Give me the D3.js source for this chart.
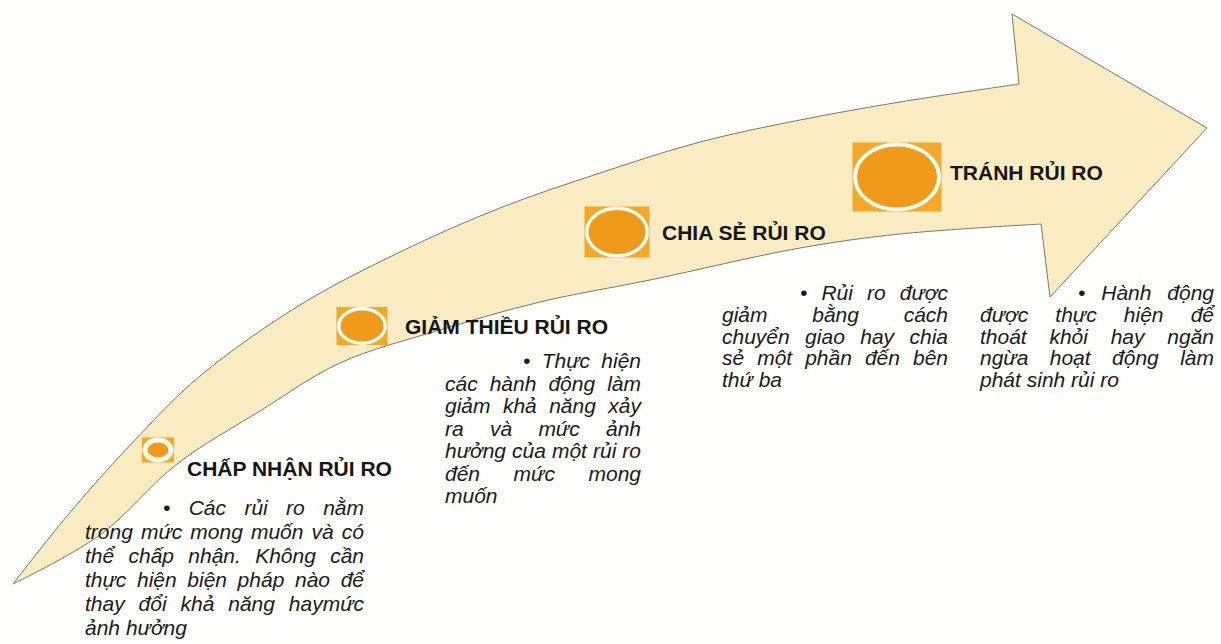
<!DOCTYPE html>
<html>
<head>
<meta charset="utf-8">
<script src="https://cdn.jsdelivr.net/npm/d3@7"></script>
<style>
  body { margin: 0; background: #fefefd; }
  svg { display: block; }
</style>
</head>
<body>
<div id="chart"></div>
<script>
// stage titles and their descriptions (line breaks as in the picture)
const stages = ["CHẤP NHẬN RỦI RO", "GIẢM THIỀU RỦI RO", "CHIA SẺ RỦI RO", "TRÁNH RỦI RO"];

const descAccept = [
  "• Các rủi ro nằm",
  "trong mức mong muốn và có",
  "thể chấp nhận. Không cần",
  "thực hiện biện pháp nào để",
  "thay đổi khả năng haymức",
  "ảnh hưởng"
];
const descReduce = [
  "• Thực hiện",
  "các hành động làm",
  "giảm khả năng xảy",
  "ra và mức ảnh",
  "hưởng của một rủi ro",
  "đến mức mong",
  "muốn"
];
const descShare = [
  "• Rủi ro được",
  "giảm bằng cách",
  "chuyển giao hay chia",
  "sẻ một phần đến bên",
  "thứ ba"
];
const descAvoid = [
  "• Hành động",
  "được thực hiện để",
  "thoát khỏi hay ngăn",
  "ngừa hoạt động làm",
  "phát sinh rủi ro"
];
const descriptions = [descAccept, descReduce, descShare, descAvoid];

// ---- layout (kept apart from the data) ----
const width = 1221, height = 644;

// outline of the curved arrow
const upperEdge = [[13,584],[67,516],[133,442],[200,376],[300,305],[400,252],[500,208],[600,173],[700,142],[800,120],[900,102],[1019,84]];
const lowerEdge = [[13,584],[100,535],[177,464],[260,411],[340,363],[440,330],[540,302],[650,280],[800,248],[900,234],[1041,224]];
const head = [[1012,14],[1207,128],[1050,297]];

// badge boxes along the arrow
const badgeX = [158, 362, 617, 897];
const badgeY = [450, 326, 232, 177];
const badgeW = [32, 51, 65, 89];
const badgeH = [25, 38, 51, 69];
const ringW = [5, 3.5, 3.5, 4];

// headings and text blocks
const titleX = [187, 405, 662, 950];
const titleY = [476, 334, 240, 180];
const blockLeft = [85, 445, 722, 980];
const blockRight = [364, 641, 948, 1214];
const blockIndent = [78, 78, 78, 98];
const blockTop = [515, 368, 300, 300];
const blockLine = [24, 22.5, 21.8, 21.8];

const font = "'Liberation Sans', Arial, sans-serif";

const svg = d3.select("#chart")
  .append("svg")
    .attr("width", width)
    .attr("height", height);

svg.append("rect")
  .attr("width", width)
  .attr("height", height)
  .attr("fill", "#fefefd");

// arrow body
const edge = d3.line().curve(d3.curveCatmullRom.alpha(0.5));
const upperD = edge(upperEdge);
const lowerD = edge(lowerEdge.slice().reverse());
const arrowD = upperD + "L" + head.map(p => p.join(",")).join("L") + "L" + lowerD.slice(1) + "Z";

svg.append("path")
  .attr("d", arrowD)
  .attr("fill", "#f9ebc2")
  .attr("stroke", "#7a776c")
  .attr("stroke-width", 1)
  .attr("stroke-linejoin", "miter");

// badges
const badges = svg.selectAll("g.badge")
  .data(stages)
  .join("g")
    .attr("class", "badge")
    .attr("transform", (d, i) => `translate(${badgeX[i]},${badgeY[i]})`);

badges.append("rect")
  .attr("x", (d, i) => -badgeW[i] / 2)
  .attr("y", (d, i) => -badgeH[i] / 2)
  .attr("width", (d, i) => badgeW[i])
  .attr("height", (d, i) => badgeH[i])
  .attr("fill", "#f5a828");

badges.append("ellipse")
  .attr("rx", (d, i) => badgeW[i] / 2 - ringW[i] / 2 - 0.5)
  .attr("ry", (d, i) => badgeH[i] / 2 - ringW[i] / 2)
  .attr("fill", "#f09a1b")
  .attr("stroke", "#fffbee")
  .attr("stroke-width", (d, i) => ringW[i]);

// headings
svg.selectAll("text.title")
  .data(stages)
  .join("text")
    .attr("class", "title")
    .attr("x", (d, i) => titleX[i])
    .attr("y", (d, i) => titleY[i])
    .attr("font-family", font)
    .attr("font-size", "21px")
    .attr("font-weight", "bold")
    .attr("fill", "#151515")
    .text(d => d);

// justified italic description blocks
function drawBlock(lines, b) {
  const g = svg.append("g")
    .attr("font-family", font)
    .attr("font-size", "21px")
    .attr("font-style", "italic")
    .attr("fill", "#1a1a1a");
  const probe = g.append("text").text("a a");
  const probe2 = g.append("text").text("aa");
  const spaceW = probe.node().getComputedTextLength() - probe2.node().getComputedTextLength();
  probe.remove(); probe2.remove();

  lines.forEach((line, i) => {
    const words = line.split(" ");
    const x0 = i === 0 ? blockLeft[b] + blockIndent[b] : blockLeft[b];
    const y = blockTop[b] + i * blockLine[b];
    const nodes = words.map(w => g.append("text").attr("y", y).text(w));
    const widths = nodes.map(n => n.node().getComputedTextLength());
    const last = i === lines.length - 1;
    const gap = (!last && words.length > 1)
      ? (blockRight[b] - x0 - d3.sum(widths)) / (words.length - 1)
      : spaceW;
    let x = x0;
    nodes.forEach((n, k) => { n.attr("x", x); x += widths[k] + gap; });
  });
}

descriptions.forEach((lines, b) => drawBlock(lines, b));
</script>
</body>
</html>
